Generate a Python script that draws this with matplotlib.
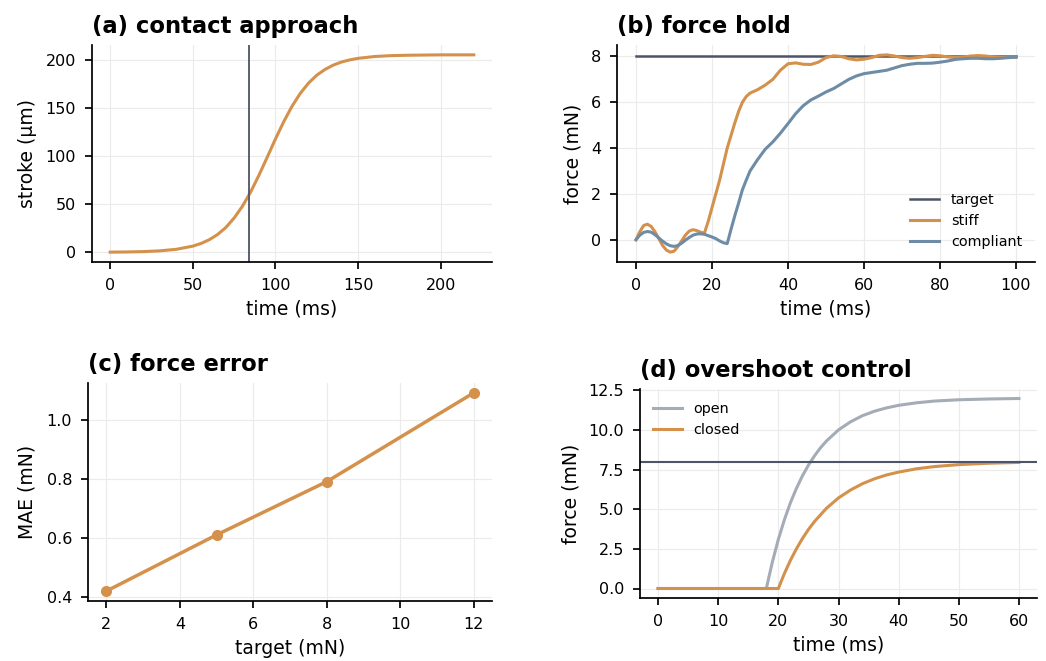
import numpy as np
import matplotlib
matplotlib.use("Agg")
import matplotlib.pyplot as plt

ORANGE = "#D4914B"
BLUE = "#6F8CA6"
GREY = "#A4ACB7"
DARK = "#4B5567"

# (a) contact approach
t_a = [0, 10, 20, 30, 40, 50, 55, 60, 65, 70, 75, 80, 85, 90, 95, 100, 105, 110,
       115, 120, 125, 130, 135, 140, 145, 150, 160, 170, 180, 190, 200, 210, 220]
stroke = [0.16, 0.34, 0.71, 1.5, 3.1, 6.4, 9.2, 13.1, 18.5, 25.8, 35.6, 47.8, 62.7,
          80.0, 98.7, 117.7, 135.6, 151.6, 165.0, 175.7, 183.9, 189.9, 194.4, 197.6,
          199.8, 201.4, 203.3, 204.2, 204.6, 204.8, 205.0, 205.0, 205.0]
contact_t = 84

# (b) force hold
t_b = [0, 1, 2, 3, 4, 5, 6, 7, 8, 9, 10, 11, 12, 13, 14, 15, 16, 17, 18, 19, 20, 21,
       22, 23, 24, 25, 26, 27, 28, 29, 30, 32, 34, 36, 38, 40, 42, 44, 46, 48, 50,
       52, 54, 56, 58, 60, 62, 64, 66, 68, 70, 72, 74, 76, 78, 80, 82, 84, 86, 88,
       90, 92, 94, 96, 98, 100]
stiff = [0.0, 0.35, 0.62, 0.68, 0.58, 0.35, 0.05, -0.25, -0.45, -0.54, -0.5, -0.3,
         -0.05, 0.2, 0.38, 0.44, 0.4, 0.33, 0.29, 0.8, 1.4, 2.0, 2.6, 3.3, 4.0, 4.55,
         5.1, 5.6, 6.0, 6.25, 6.4, 6.55, 6.75, 7.0, 7.4, 7.68, 7.72, 7.66, 7.65,
         7.75, 7.95, 8.03, 8.0, 7.9, 7.85, 7.88, 7.95, 8.05, 8.07, 8.02, 7.95, 7.92,
         7.95, 8.0, 8.05, 8.03, 7.98, 7.95, 7.97, 8.02, 8.04, 8.02, 7.98, 7.96, 7.97,
         7.97]
compliant = [0.0, 0.2, 0.32, 0.36, 0.33, 0.22, 0.08, -0.06, -0.18, -0.26, -0.29,
             -0.25, -0.15, -0.02, 0.1, 0.2, 0.25, 0.26, 0.24, 0.18, 0.12, 0.05, -0.05,
             -0.13, -0.17, 0.45, 1.05, 1.6, 2.18, 2.6, 3.0, 3.5, 3.95, 4.27, 4.65, 5.07,
             5.5, 5.85, 6.1, 6.27, 6.45, 6.6, 6.8, 7.0, 7.15, 7.25, 7.3, 7.35, 7.4, 7.5,
             7.6, 7.66, 7.7, 7.7, 7.71, 7.75, 7.8, 7.87, 7.9, 7.92, 7.92, 7.9, 7.9,
             7.92, 7.95, 7.97]
target_b = 8

# (c) force error
targets_c = [2, 5, 8, 12]
mae = [0.42, 0.61, 0.79, 1.09]

# (d) overshoot control
t_open = [0, 18, 19, 20, 21, 22, 23, 24, 25, 26, 27, 28, 30, 32, 34, 36, 38, 40, 43,
          46, 50, 55, 60]
f_open = [0, 0, 1.66, 3.10, 4.33, 5.40, 6.31, 7.10, 7.78, 8.36, 8.87, 9.30, 10.0,
          10.51, 10.90, 11.18, 11.39, 11.55, 11.71, 11.82, 11.90, 11.95, 11.98]
t_closed = [0, 20, 21, 22, 23, 24, 25, 26, 28, 30, 32, 34, 36, 38, 40, 43, 46, 50,
            55, 60]
f_closed = [0, 0, 0.94, 1.77, 2.50, 3.15, 3.72, 4.22, 5.06, 5.71, 6.21, 6.61, 6.92,
            7.16, 7.34, 7.55, 7.69, 7.81, 7.90, 7.95]
target_d = 8

plt.rcParams.update({
    "font.family": "DejaVu Sans",
    "axes.linewidth": 1.25,
    "xtick.major.width": 1.25,
    "ytick.major.width": 1.25,
    "xtick.major.size": 5,
    "ytick.major.size": 5,
    "xtick.major.pad": 6.5,
    "ytick.major.pad": 6.5,
    "xtick.labelsize": 11.5,
    "ytick.labelsize": 11.5,
    "axes.labelsize": 13.5,
    "axes.labelpad": 5,
})

W, H = 1046, 661
fig = plt.figure(figsize=(W / 100, H / 100), dpi=100)


def box(l, r, t, b):
    return [l / W, (H - b) / H, (r - l) / W, (b - t) / H]


def style(ax, title):
    ax.spines["top"].set_visible(False)
    ax.spines["right"].set_visible(False)
    ax.grid(True, color="#ebebeb", lw=0.8)
    ax.set_axisbelow(True)
    ax.set_title(title, loc="left", fontweight="bold", fontsize=16.3, pad=9)


ax1 = fig.add_axes(box(92, 492, 45, 262))
ax1.plot(t_a, stroke, color=ORANGE, lw=2.2)
ax1.axvline(contact_t, color=DARK, lw=1.3)
ax1.set_xlabel("time (ms)")
ax1.set_ylabel("stroke (µm)", labelpad=6)
ax1.set_xticks([0, 50, 100, 150, 200])
ax1.set_yticks([0, 50, 100, 150, 200])
style(ax1, "(a) contact approach")

ax2 = fig.add_axes(box(617, 1035, 45, 262))
ax2.plot([t_b[0], t_b[-1]], [target_b, target_b], color=DARK, lw=1.8, label="target")
ax2.plot(t_b, stiff, color=ORANGE, lw=2.2, label="stiff")
ax2.plot(t_b, compliant, color=BLUE, lw=2.2, label="compliant")
ax2.set_xlabel("time (ms)")
ax2.set_ylabel("force (mN)", labelpad=6)
ax2.set_yticks([0, 2, 4, 6, 8])
ax2.legend(loc="lower right", frameon=False, fontsize=10.4)
style(ax2, "(b) force hold")

ax3 = fig.add_axes(box(88, 492, 383, 601))
ax3.plot(targets_c, mae, color=ORANGE, lw=2.5, marker="o", ms=7)
ax3.set_xlabel("target (mN)")
ax3.set_ylabel("MAE (mN)", labelpad=7)
ax3.set_yticks([0.4, 0.6, 0.8, 1.0])
style(ax3, "(c) force error")

ax4 = fig.add_axes(box(640, 1037, 389, 598))
ax4.plot(t_open, f_open, color=GREY, lw=2.2, label="open")
ax4.plot(t_closed, f_closed, color=ORANGE, lw=2.2, label="closed")
ax4.axhline(target_d, color=DARK, lw=1.5)
ax4.set_xlabel("time (ms)")
ax4.set_ylabel("force (mN)", labelpad=6)
ax4.legend(loc="upper left", frameon=False, fontsize=10.4)
style(ax4, "(d) overshoot control")

fig.savefig("out.png", dpi=100)
